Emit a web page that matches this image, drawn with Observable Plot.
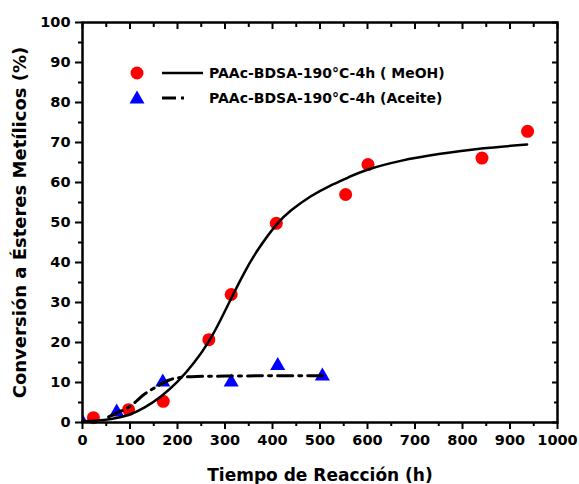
<!DOCTYPE html>
<html>
<head>
<meta charset="utf-8">
<script src="https://cdn.jsdelivr.net/npm/d3@7"></script>
<script src="https://cdn.jsdelivr.net/npm/@observablehq/plot@0.6"></script>
<style>
  html, body { margin: 0; padding: 0; background: white; }
  #wrap { position: relative; width: 579px; height: 484px; overflow: hidden; }
  #legend { position: absolute; left: 0; top: 0; pointer-events: none; }
  #legend text { font-family: "DejaVu Sans", sans-serif; font-weight: bold; font-size: 14px; }
</style>
</head>
<body>
<div id="wrap"></div>
<script>
// ---- data ----
const meohX = [23, 97, 170, 266, 313, 408, 554, 601, 841, 937];
const meohY = [1.2, 3.2, 5.3, 20.7, 32.0, 49.8, 57.0, 64.5, 66.1, 72.8];

const oilX = [0, 72, 169, 313, 411, 505];
const oilY = [0, 2.6, 10.1, 10.1, 14.2, 11.6];

// fitted curve (solid)
const fitX = [0, 30, 60, 95, 130, 165, 200, 235, 266, 290, 313, 340, 370, 408, 440, 480, 520, 560, 600, 670, 750, 840, 936];
const fitY = [0.3, 0.5, 0.9, 1.8, 3.7, 6.5, 10.2, 15.0, 20.3, 25.5, 31.0, 37.3, 43.3, 49.4, 53.1, 56.5, 59.1, 61.3, 63.2, 65.4, 67.1, 68.5, 69.5];

// dash-dot curve
const oilFitX = [55, 76, 97, 115, 133, 161, 180, 202, 240, 300, 400, 505];
const oilFitY = [1.4, 2.6, 3.8, 5.5, 7.3, 9.3, 10.5, 11.2, 11.5, 11.6, 11.7, 11.7];

const xTicks = [0, 100, 200, 300, 400, 500, 600, 700, 800, 900, 1000];
const xMinor = [50, 150, 250, 350, 450, 550, 650, 750, 850, 950];
const yTicks = [0, 10, 20, 30, 40, 50, 60, 70, 80, 90, 100];
const yMinor = [5, 15, 25, 35, 45, 55, 65, 75, 85, 95];

const xTitle = "Tiempo de Reacción (h)";
const yTitle = "Conversión a Ésteres Metílicos (%)";
const seriesNames = ["PAAc-BDSA-190°C-4h ( MeOH)", "PAAc-BDSA-190°C-4h (Aceite)"];

// ---- tables ----
const meoh = meohX.map((x, i) => ({x, y: meohY[i]}));
const oil = oilX.map((x, i) => ({x, y: oilY[i]}));
const fit = fitX.map((x, i) => ({x, y: fitY[i]}));
const oilFit = oilFitX.map((x, i) => ({x, y: oilFitY[i]}));

const chart = Plot.plot({
  width: 579,
  height: 484,
  marginLeft: 82,
  marginRight: 22,
  marginTop: 22,
  marginBottom: 62,
  style: {fontFamily: "DejaVu Sans, sans-serif", fontWeight: "bold", fontSize: "14.5px", color: "black", background: "white"},
  x: {domain: [0, 1000]},
  y: {domain: [0, 100]},
  marks: [
    // bottom axis
    Plot.axisX({ticks: xMinor, tickSize: 4, text: null, label: null, strokeWidth: 2}),
    Plot.axisX({ticks: xTicks, tickSize: 7, tickPadding: 5, label: null, strokeWidth: 2, tickFormat: d => String(d)}),
    // top mirrored ticks (inward)
    Plot.axisX({anchor: "top", ticks: xMinor, tickSize: 4, dy: 4, text: null, label: null, strokeWidth: 2}),
    Plot.axisX({anchor: "top", ticks: xTicks, tickSize: 6, dy: 6, text: null, label: null, strokeWidth: 2}),
    // left axis
    Plot.axisY({ticks: yMinor, tickSize: 4, text: null, label: null, strokeWidth: 2}),
    Plot.axisY({ticks: yTicks, tickSize: 7, tickPadding: 5, label: null, strokeWidth: 2, tickFormat: d => String(d)}),
    // right mirrored ticks (inward)
    Plot.axisY({anchor: "right", ticks: yMinor, tickSize: 4, dx: -4, text: null, label: null, strokeWidth: 2}),
    Plot.axisY({anchor: "right", ticks: yTicks, tickSize: 6, dx: -6, text: null, label: null, strokeWidth: 2}),
    // data
    Plot.dot(meoh, {x: "x", y: "y", r: 6.5, fill: "#ff0000", stroke: "none"}),
    Plot.dot(oil, {x: "x", y: "y", r: 5.6, symbol: "triangle", fill: "#0000ff", stroke: "none", clip: true}),
    Plot.line(fit, {x: "x", y: "y", stroke: "black", strokeWidth: 2.5, curve: "natural"}),
    Plot.line(oilFit, {x: "x", y: "y", stroke: "black", strokeWidth: 3, strokeDasharray: "15,6,3,6", curve: "natural"}),
    // frame
    Plot.frame({stroke: "black", strokeWidth: 2.5}),
    // axis titles
    Plot.text([xTitle], {frameAnchor: "bottom", dy: 53, lineAnchor: "middle", textAnchor: "middle", fontSize: 17, fontWeight: "bold", fill: "black"}),
    Plot.text([yTitle], {frameAnchor: "left", dx: -62, rotate: -90, lineAnchor: "middle", textAnchor: "middle", fontSize: 18, fontWeight: "bold", fill: "black"})
  ]
});

const wrap = document.getElementById("wrap");
wrap.appendChild(chart);

// legend overlay
const ns = "http://www.w3.org/2000/svg";
const lg = document.createElementNS(ns, "svg");
lg.setAttribute("id", "legend");
lg.setAttribute("width", 579);
lg.setAttribute("height", 484);
lg.innerHTML = `
  <circle cx="137" cy="73" r="6.5" fill="#ff0000"/>
  <line x1="162" x2="203" y1="73" y2="73" stroke="black" stroke-width="2.5"/>
  <text x="209" y="73" dominant-baseline="central">${seriesNames[0]}</text>
  <path d="M137,90.5 L144.5,103.5 L129.5,103.5 Z" fill="#0000ff"/>
  <line x1="162" x2="176" y1="98" y2="98" stroke="black" stroke-width="3"/>
  <line x1="181" x2="184" y1="98" y2="98" stroke="black" stroke-width="3"/>
  <text x="209" y="98" dominant-baseline="central">${seriesNames[1]}</text>
`;
wrap.appendChild(lg);
</script>
</body>
</html>
